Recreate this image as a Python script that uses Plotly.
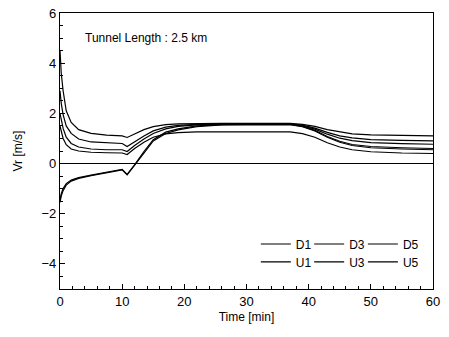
import plotly.graph_objects as go

time_min = [0, 0.2, 0.5, 1, 1.8, 3, 5, 7.5, 10, 10.8, 12, 13.5, 15, 17, 19, 22, 26, 30, 34, 37,
            39, 41, 43, 45, 47, 50, 55, 60]

D1 = [-1.45, -1.2, -1.0, -0.8, -0.66, -0.56, -0.46, -0.35, -0.23, -0.43, -0.05, 0.48, 0.95, 1.25,
      1.38, 1.5, 1.55, 1.56, 1.56, 1.56, 1.48, 1.32, 1.08, 0.89, 0.76, 0.68, 0.63, 0.6]
D3 = [-1.55, -1.3, -1.08, -0.86, -0.7, -0.59, -0.48, -0.37, -0.25, -0.45, -0.08, 0.42, 0.9, 1.2,
      1.34, 1.47, 1.54, 1.55, 1.55, 1.55, 1.47, 1.3, 1.05, 0.85, 0.72, 0.63, 0.58, 0.55]
D5 = [1.5, 1.25, 1.0, 0.75, 0.58, 0.5, 0.45, 0.43, 0.42, 0.36, 0.6, 0.85, 1.05, 1.18,
      1.23, 1.26, 1.26, 1.26, 1.26, 1.26, 1.19, 1.05, 0.83, 0.66, 0.55, 0.47, 0.42, 0.4]
U1 = [2.0, 1.7, 1.4, 1.05, 0.8, 0.66, 0.58, 0.55, 0.55, 0.48, 0.72, 0.98, 1.2, 1.38,
      1.48, 1.54, 1.56, 1.57, 1.57, 1.57, 1.5, 1.37, 1.17, 1.01, 0.91, 0.83, 0.79, 0.77]
U3 = [2.9, 2.4, 1.95, 1.5, 1.2, 0.98, 0.86, 0.82, 0.8, 0.68, 0.88, 1.1, 1.3, 1.45,
      1.52, 1.56, 1.57, 1.58, 1.58, 1.58, 1.53, 1.41, 1.24, 1.1, 1.02, 0.95, 0.92, 0.9]
U5 = [4.5, 3.6, 2.9, 2.1, 1.64, 1.35, 1.2, 1.13, 1.1, 1.04, 1.18, 1.35, 1.47, 1.55,
      1.58, 1.6, 1.6, 1.6, 1.6, 1.6, 1.56, 1.48, 1.35, 1.25, 1.18, 1.14, 1.12, 1.1]

series_names = ["D1", "D3", "D5", "U1", "U3", "U5"]
series_values = [D1, D3, D5, U1, U3, U5]

x_ticks = [0, 10, 20, 30, 40, 50, 60]
y_ticks = [-4, -2, 0, 2, 4, 6]

FONT = "Liberation Sans, Arial, sans-serif"

fig = go.Figure()
legend_ids = ["legend", "legend2", "legend3", "legend4", "legend5", "legend6"]
for name, vals, lg in zip(series_names, series_values, legend_ids):
    fig.add_trace(go.Scatter(x=time_min, y=vals, mode="lines", name=name,
                             line=dict(color="black", width=1.2), legend=lg))

axis_common = dict(showgrid=False, showline=True, linecolor="black", linewidth=1.2,
                   mirror=True, ticks="inside", ticklen=5, tickcolor="black", automargin=False,
                   ticklabeloverflow="allow",
                   tickfont=dict(family=FONT, size=13, color="black"))

fig.update_xaxes(range=[0, 60], tickvals=x_ticks, zeroline=False,
                 minor=dict(dtick=2, ticks="inside", ticklen=3, tickcolor="black"),
                 title=dict(text="Time [min]", font=dict(family=FONT, size=12, color="black"),
                            standoff=4),
                 **axis_common)
fig.update_yaxes(range=[-5, 6], tickvals=y_ticks, zeroline=True, zerolinecolor="black",
                 zerolinewidth=1.2,
                 minor=dict(dtick=0.5, ticks="inside", ticklen=3, tickcolor="black"),
                 title=dict(text="Vr [m/s]", font=dict(family=FONT, size=12, color="black"),
                            standoff=16),
                 **axis_common)

fig.add_annotation(x=3.7, y=5.0, xref="x", yref="y", text="Tunnel Length : 2.5 km",
                   showarrow=False, xanchor="left", yanchor="middle",
                   font=dict(family=FONT, size=12, color="black"))

legend_common = dict(orientation="h", xanchor="left", yanchor="middle",
                     bgcolor="rgba(0,0,0,0)", font=dict(family=FONT, size=12, color="black"),
                     itemwidth=30)
col_x = [0.525, 0.668, 0.812]
row_y = [0.163, 0.098]
legend_layout = {}
for i, lg in enumerate(legend_ids):
    legend_layout[lg] = dict(x=col_x[i % 3], y=row_y[i // 3], **legend_common)

fig.update_layout(
    width=449, height=337,
    margin=dict(l=60, r=16, t=13, b=48, autoexpand=False),
    paper_bgcolor="white", plot_bgcolor="white",
    showlegend=True,
    font=dict(family=FONT, color="black"),
    **legend_layout,
)

fig.write_html("out.html", config={"displayModeBar": False},
               post_script="document.body.style.margin='0px';")
